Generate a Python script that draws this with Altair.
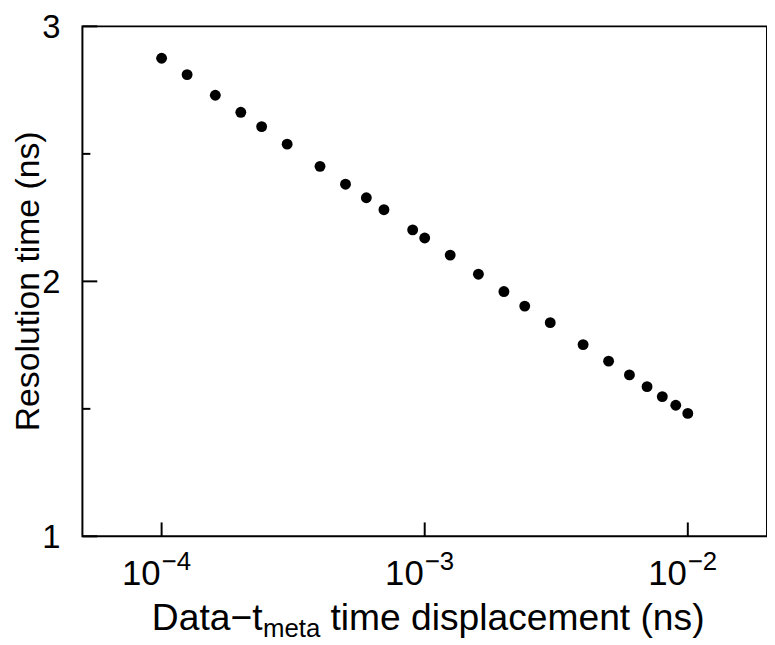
import altair as alt
import pandas as pd

# ---- data ----
disp = [1e-4, 1.25e-4, 1.6e-4, 2e-4, 2.4e-4, 3e-4, 4e-4, 5e-4, 6e-4, 7e-4, 9e-4,
        1e-3, 1.25e-3, 1.6e-3, 2e-3, 2.4e-3, 3e-3, 4e-3, 5e-3, 6e-3, 7e-3, 8e-3, 9e-3, 1e-2]
res = [2.875, 2.811, 2.730, 2.663, 2.607, 2.538, 2.451, 2.381, 2.328, 2.281, 2.202,
       2.170, 2.103, 2.028, 1.960, 1.903, 1.838, 1.752, 1.687, 1.633, 1.587, 1.548, 1.514, 1.482]
x_ticks = [1e-4, 1e-3, 1e-2]
x_exps = ["\u22124", "\u22123", "\u22122"]
y_major = [1, 2, 3]
y_minor = [1.5, 2.5]
y_labels = ["1", "2", "3"]
x_title_parts = ["Data\u2212t", "meta", "time displacement (ns)"]
y_title = "Resolution time (ns)"

FONT = "Liberation Sans"
W, H = 690, 514

xscale = alt.Scale(type="log", domain=[5e-5, 2e-2], nice=False)
yscale = alt.Scale(domain=[1, 3], nice=False, zero=False)

pts = pd.DataFrame({"x": disp, "y": res})
points = alt.Chart(pts).mark_circle(size=120, color="black", opacity=1).encode(
    x=alt.X("x:Q", scale=xscale, axis=None),
    y=alt.Y("y:Q", scale=yscale, axis=None),
)

xt = pd.DataFrame({"x": x_ticks, "e": x_exps})
xtick = alt.Chart(xt).mark_rule(color="black", strokeWidth=2).encode(
    x=alt.X("x:Q", scale=xscale, axis=None),
    y=alt.value(H), y2=alt.value(H - 14),
)
xlab = alt.Chart(xt).mark_text(align="right", baseline="alphabetic", fontSize=35,
                               font=FONT, dx=-1, color="black").encode(
    x=alt.X("x:Q", scale=xscale, axis=None),
    y=alt.value(H + 49), text=alt.value("10"),
)
xexp = alt.Chart(xt).mark_text(align="left", baseline="alphabetic", fontSize=26,
                               font=FONT, dx=0, color="black").encode(
    x=alt.X("x:Q", scale=xscale, axis=None),
    y=alt.value(H + 34), text="e:N",
)

ymaj = pd.DataFrame({"y": y_major, "l": y_labels})
ymin = pd.DataFrame({"y": y_minor})
ytick = alt.Chart(ymaj).mark_rule(color="black", strokeWidth=2).encode(
    y=alt.Y("y:Q", scale=yscale, axis=None),
    x=alt.value(0), x2=alt.value(15),
)
ytick2 = alt.Chart(ymin).mark_rule(color="black", strokeWidth=2).encode(
    y=alt.Y("y:Q", scale=yscale, axis=None),
    x=alt.value(0), x2=alt.value(8),
)
ylab = alt.Chart(ymaj).mark_text(align="right", baseline="alphabetic", fontSize=33,
                                 font=FONT, dy=12, color="black").encode(
    y=alt.Y("y:Q", scale=yscale, axis=None),
    x=alt.value(-22), text="l:N",
)

TB = H + 94  # title baseline
t1 = alt.Chart(pd.DataFrame({"t": [x_title_parts[0]]})).mark_text(
    align="left", baseline="alphabetic", fontSize=37.5, font=FONT, color="black").encode(
    x=alt.value(70), y=alt.value(TB), text="t:N")
t2 = alt.Chart(pd.DataFrame({"t": [x_title_parts[1]]})).mark_text(
    align="left", baseline="alphabetic", fontSize=26, font=FONT, color="black").encode(
    x=alt.value(182), y=alt.value(TB + 7), text="t:N")
t3 = alt.Chart(pd.DataFrame({"t": [x_title_parts[2]]})).mark_text(
    align="left", baseline="alphabetic", fontSize=37.5, font=FONT, color="black").encode(
    x=alt.value(250), y=alt.value(TB), text="t:N")
ty = alt.Chart(pd.DataFrame({"t": [y_title]})).mark_text(
    align="center", baseline="alphabetic", fontSize=34, font=FONT, angle=270,
    color="black").encode(
    x=alt.value(-44), y=alt.value(H / 2), text="t:N")

chart = alt.layer(points, xtick, xlab, xexp, ytick, ytick2, ylab, t1, t2, t3, ty).properties(
    width=W, height=H,
    autosize=alt.AutoSizeParams(type="none"),
    padding={"left": 75, "top": 16, "right": 0, "bottom": 107},
    background="white",
).configure_view(stroke="black", strokeWidth=2)

chart.save("out.html", embed_options={"renderer": "svg", "actions": False})
